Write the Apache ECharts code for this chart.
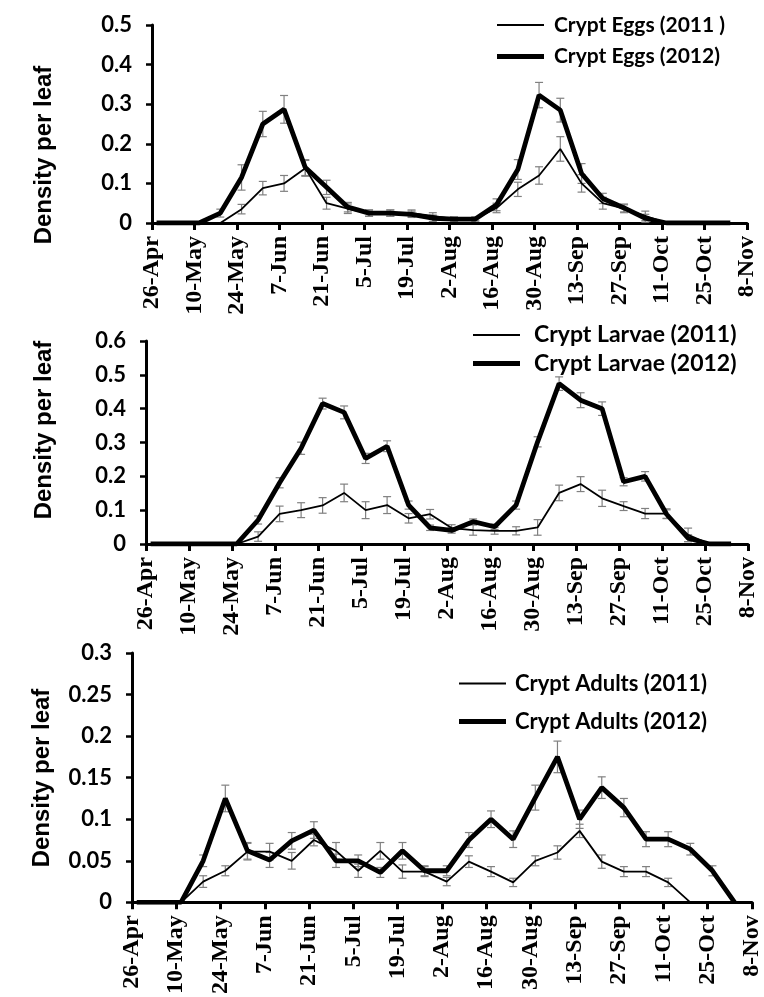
<!DOCTYPE html>
<html>
<head>
<meta charset="utf-8">
<script src="https://cdn.jsdelivr.net/npm/echarts@6/dist/echarts.min.js"></script>
<style>
html,body{margin:0;padding:0;background:#fff;}
#chart{width:764px;height:997px;}
</style>
</head>
<body>
<div id="chart"></div>
<script>
// x tick labels (every 14 days from 26-Apr)
const tickLabels = ['26-Apr','10-May','24-May','7-Jun','21-Jun','5-Jul','19-Jul','2-Aug','16-Aug','30-Aug','13-Sep','27-Sep','11-Oct','25-Oct','8-Nov'];
// sampling days (days after 26-Apr)
const sampleDays = [1.5,8.5,15.5,22.5,29.5,36.5,43.5,50.5,57.5,64.5,71.5,78.5,85.5,92.5,99.5,106.5,113.5,120.5,127.5,134.5,141.5,148.5,155.5,162.5,169.5,176.5,183.5,190.5];

// Panel 1: Crypt eggs
const eggs2011 = [0,0,0,0,0.035,0.088,0.1,0.138,0.05,0.036,0.025,0.025,0.025,0.018,0.01,0.01,0.038,0.085,0.12,0.187,0.1,0.05,0.036,0.018,0,0,0,0];
const eggs2011Err = [0,0,0,0,0.012,0.017,0.02,0.02,0.015,0.012,0.008,0.008,0.008,0.008,0.005,0.005,0.012,0.018,0.022,0.031,0.022,0.015,0.01,0.012,0,0,0,0];
const eggs2012 = [0,0,0,0.025,0.115,0.25,0.287,0.14,0.09,0.04,0.025,0.025,0.022,0.012,0.01,0.01,0.046,0.135,0.323,0.285,0.125,0.062,0.038,0.012,0,0,0,0];
const eggs2012Err = [0,0,0,0.01,0.032,0.032,0.035,0.02,0.018,0.012,0.008,0.008,0.008,0.008,0.005,0.005,0.015,0.025,0.032,0.03,0.025,0.013,0.01,0.01,0,0,0,0];

// Panel 2: Crypt larvae
const larvae2011 = [0,0,0,0,0,0.022,0.089,0.1,0.114,0.151,0.1,0.115,0.076,0.088,0.047,0.041,0.039,0.039,0.049,0.151,0.177,0.135,0.112,0.09,0.09,0.027,0,0];
const larvae2011Err = [0,0,0,0,0,0.014,0.023,0.022,0.023,0.026,0.025,0.025,0.014,0.014,0.01,0.015,0.01,0.012,0.023,0.023,0.022,0.024,0.013,0.015,0.014,0.02,0,0];
const larvae2012 = [0,0,0,0,0,0.071,0.181,0.283,0.415,0.389,0.253,0.289,0.115,0.048,0.04,0.066,0.051,0.115,0.302,0.474,0.425,0.4,0.184,0.2,0.088,0.017,0,0];
const larvae2012Err = [0,0,0,0,0,0.012,0.015,0.018,0.016,0.019,0.015,0.016,0.012,0.008,0.008,0.008,0.008,0.012,0.015,0.02,0.022,0.02,0.012,0.014,0.013,0.01,0,0];

// Panel 3: Crypt adults
const adults2011 = [0,0,0,0.025,0.038,0.061,0.061,0.05,0.075,0.062,0.038,0.062,0.037,0.037,0.025,0.049,0.037,0.024,0.05,0.06,0.086,0.049,0.037,0.037,0.024,0,0,0];
const adults2011Err = [0,0,0,0.007,0.006,0.01,0.01,0.01,0.007,0.01,0.008,0.01,0.008,0.006,0.005,0.007,0.006,0.005,0.006,0.008,0.008,0.008,0.006,0.006,0.005,0,0,0];
const adults2012 = [0,0,0,0.05,0.125,0.062,0.051,0.074,0.087,0.05,0.05,0.036,0.062,0.038,0.038,0.075,0.1,0.076,0.126,0.175,0.1,0.138,0.114,0.076,0.076,0.064,0.038,0];
const adults2012Err = [0,0,0,0.007,0.016,0.01,0.009,0.01,0.01,0.008,0.007,0.006,0.01,0.006,0.006,0.009,0.01,0.01,0.015,0.019,0.011,0.013,0.011,0.009,0.009,0.007,0.006,0];

const lineWidths = [1.8, 4.8];

const panels = [
  {grid:{left:152, top:25, width:595, height:198}, yMax:0.5, yInt:0.1,
   names:['Crypt Eggs (2011 )','Crypt Eggs (2012)'], vals:[eggs2011, eggs2012], errs:[eggs2011Err, eggs2012Err],
   legend:{left:497, rows:[25, 56.5], gap:5, size:21}, title:{x:44, y:155}},
  {grid:{left:146, top:341, width:602, height:203}, yMax:0.6, yInt:0.1,
   names:['Crypt Larvae (2011)','Crypt Larvae (2012)'], vals:[larvae2011, larvae2012], errs:[larvae2011Err, larvae2012Err],
   legend:{left:473, rows:[335, 363.5], gap:9, size:23}, title:{x:44, y:430}},
  {grid:{left:132, top:653, width:627, height:250}, yMax:0.3, yInt:0.05,
   names:['Crypt Adults (2011)','Crypt Adults (2012)'], vals:[adults2011, adults2012], errs:[adults2011Err, adults2012Err],
   legend:{left:459, rows:[683.5, 721.5], gap:4, size:22}, title:{x:42, y:778}}
];

const grids = [], xAxes = [], yAxes = [], series = [], legends = [], graphics = [];
panels.forEach((p, pi) => {
  grids.push(Object.assign({containLabel:false}, p.grid));
  xAxes.push({
    type:'value', gridIndex:pi, min:0, max:196, interval:14,
    axisLine:{show:true, onZero:false, lineStyle:{color:'#000', width:3}},
    axisTick:{show:true, length:7, lineStyle:{color:'#000', width:3}},
    splitLine:{show:false},
    axisLabel:{rotate:90, margin:13, color:'#000', fontFamily:'"Liberation Serif", serif', fontWeight:'bold', fontSize:24,
      formatter:(v) => { const i = Math.round(v/14); return (Math.abs(v - i*14) < 1e-6 && tickLabels[i]) ? tickLabels[i] : ''; }}
  });
  yAxes.push({
    type:'value', gridIndex:pi, min:0, max:p.yMax, interval:p.yInt,
    axisLine:{show:true, lineStyle:{color:'#000', width:3}},
    axisTick:{show:true, length:6, lineStyle:{color:'#000', width:2.5}},
    splitLine:{show:false},
    axisLabel:{margin:20, color:'#000', fontFamily:'Lato, sans-serif', fontWeight:'bold', fontSize:22,
      formatter:(v) => String(Math.round(v*1000)/1000)}
  });
  p.names.forEach((nm, si) => {
    series.push({
      type:'custom', name:nm + ' err', xAxisIndex:pi, yAxisIndex:pi, z:2, silent:true,
      data: sampleDays.map((d, i) => [d, p.vals[si][i], p.errs[si][i]]),
      renderItem: (params, api) => {
        const x = api.value(0), y = api.value(1), e = api.value(2);
        if (!e) return null;
        const hi = api.coord([x, y + e]);
        const lo = api.coord([x, Math.max(0, y - e)]);
        const w = 4;
        const st = {stroke:'#808080', lineWidth:1.2};
        return {type:'group', children:[
          {type:'line', shape:{x1:hi[0], y1:hi[1], x2:lo[0], y2:lo[1]}, style:st},
          {type:'line', shape:{x1:hi[0]-w, y1:hi[1], x2:hi[0]+w, y2:hi[1]}, style:st},
          {type:'line', shape:{x1:lo[0]-w, y1:lo[1], x2:lo[0]+w, y2:lo[1]}, style:st}
        ]};
      }
    });
    series.push({
      type:'line', name:nm, xAxisIndex:pi, yAxisIndex:pi, z:3, symbol:'none', silent:true,
      lineStyle:{color:'#000', width:lineWidths[si]},
      itemStyle:{color:'#000'},
      data: sampleDays.map((d, i) => [d, p.vals[si][i]])
    });
    legends.push({
      data:[{name:nm, icon:'rect'}], left:p.legend.left, top:p.legend.rows[si] - 12, selectedMode:false,
      itemWidth:47, itemHeight: si === 0 ? 2 : 5, padding:0,
      itemStyle:{color:'#000', borderWidth:0},
      textStyle:{color:'#000', fontFamily:'Lato, sans-serif', fontWeight:'bold', fontSize:p.legend.size, lineHeight:24, padding:[0,0,0,p.legend.gap]}
    });
  });
  graphics.push({
    type:'text', x:p.title.x, y:p.title.y, rotation:Math.PI/2,
    style:{text:'Density per leaf', fill:'#000', font:'bold 24px "Liberation Sans", Arial, sans-serif', align:'center', verticalAlign:'middle'}
  });
});

const chart = echarts.init(document.getElementById('chart'), null, {renderer:'canvas'});
chart.setOption({
  backgroundColor:'#fff',
  animation:false,
  grid:grids, xAxis:xAxes, yAxis:yAxes, series:series, legend:legends, graphic:graphics
});
</script>
</body>
</html>
